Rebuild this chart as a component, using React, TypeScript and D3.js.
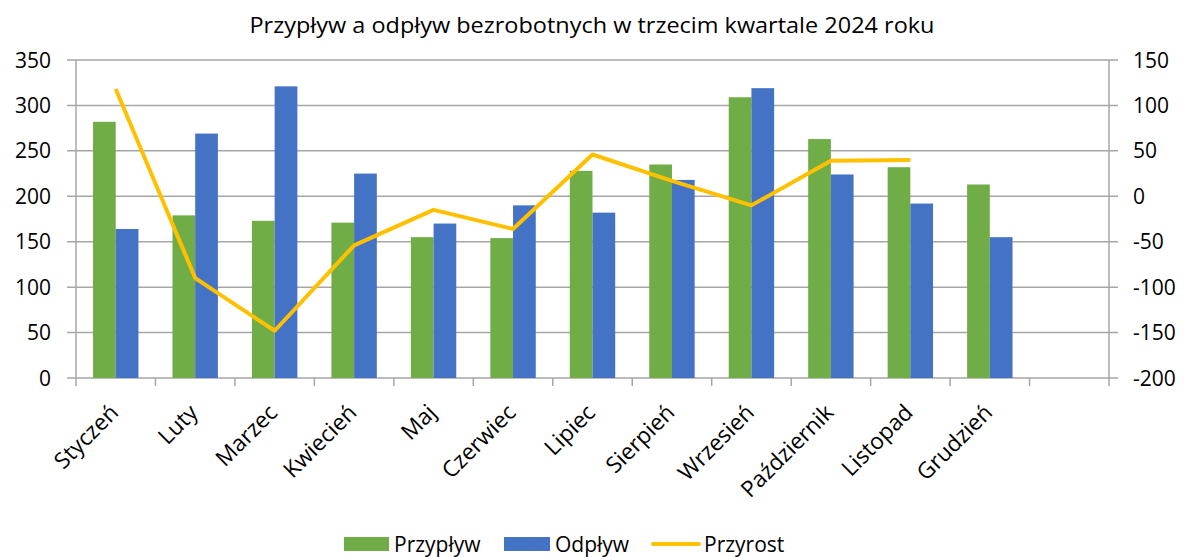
import React from 'react';
import * as d3 from 'd3';

const months = ['Styczeń', 'Luty', 'Marzec', 'Kwiecień', 'Maj', 'Czerwiec', 'Lipiec', 'Sierpień', 'Wrzesień', 'Październik', 'Listopad', 'Grudzień', ''];
const przyplyw = [282, 179, 173, 171, 155, 154, 228, 235, 309, 263, 232, 213];
const odplyw = [164, 269, 321, 225, 170, 190, 182, 218, 319, 224, 192, 155];
const przyrost = [118, -90, -148, -54, -15, -36, 46, 17, -10, 39, 40];
const leftTicks = [0, 50, 100, 150, 200, 250, 300, 350];
const rightTicks = [-200, -150, -100, -50, 0, 50, 100, 150];

const GREEN = '#70AD47';
const BLUE = '#4472C4';
const GOLD = '#FFC000';
const GRID = '#A6A6A6';
const FONT = '"Open Sans", sans-serif';

const App = () => {
    const width = 1186, height = 557;
    const left = 76, right = 1109, top = 60, bottom = 378;

    const x = d3.scaleBand<string>()
        .domain(months.map((m, i) => i + ':' + m))
        .range([left, right]);
    const keys = x.domain();
    const bw = x.bandwidth();
    const barW = bw / 3.5;

    const yL = d3.scaleLinear().domain([0, 350]).range([bottom, top]);
    const yR = d3.scaleLinear().domain([-200, 150]).range([bottom, top]);

    const line = d3.line<number>()
        .x((d, i) => (x(keys[i]) as number) + bw / 2)
        .y(d => yR(d));

    return (
        <svg width={width} height={height} style={{ position: 'absolute', left: 0, top: 0 }} fontFamily={FONT}>
            <rect width={width} height={height} fill="#fff" />
            <text x={592} y={33} textAnchor="middle" fontSize={21} fill="#000" textLength={685} lengthAdjust="spacingAndGlyphs">
                Przypływ a odpływ bezrobotnych w trzecim kwartale 2024 roku
            </text>

            {leftTicks.map(t => (
                <g key={'g' + t}>
                    <line x1={left - 9} x2={right + 9} y1={yL(t)} y2={yL(t)} stroke={GRID} strokeWidth={1.5} />
                    <text x={51} y={yL(t)} dy="0.36em" textAnchor="end" fontSize={21} fill="#000">{t}</text>
                </g>
            ))}
            {rightTicks.map(t => (
                <text key={'r' + t} x={1133} y={yR(t)} dy="0.36em" textAnchor="start" fontSize={21} fill="#000">{t}</text>
            ))}

            {keys.map((k, i) => (
                <line key={'t' + i} x1={x(k)} x2={x(k)} y1={bottom} y2={bottom + 8} stroke={GRID} strokeWidth={1.5} />
            ))}
            <line x1={right} x2={right} y1={bottom} y2={bottom + 8} stroke={GRID} strokeWidth={1.5} />
            <line x1={left} x2={left} y1={top} y2={bottom} stroke={GRID} strokeWidth={1.5} />
            <line x1={right} x2={right} y1={top} y2={bottom} stroke={GRID} strokeWidth={1.5} />

            {przyplyw.map((v, i) => (
                <rect key={'p' + i} x={(x(keys[i]) as number) + (bw - 2 * barW) / 2} y={yL(v)}
                    width={barW} height={yL(0) - yL(v)} fill={GREEN} />
            ))}
            {odplyw.map((v, i) => (
                <rect key={'o' + i} x={(x(keys[i]) as number) + bw / 2} y={yL(v)}
                    width={barW} height={yL(0) - yL(v)} fill={BLUE} />
            ))}

            <path d={line(przyrost) || ''} fill="none" stroke={GOLD} strokeWidth={4} strokeLinejoin="round" />

            {keys.map((k, i) => months[i] ? (
                <text key={'x' + i} transform={`translate(${(x(k) as number) + bw / 2 + 4},${bottom + 36}) rotate(-45)`}
                    textAnchor="end" fontSize={22.5} fill="#000">{months[i]}</text>
            ) : null)}

            <g fontSize={21} fill="#000">
                <rect x={344} y={537} width={45} height={14} fill={GREEN} />
                <text x={394} y={544} dy="0.36em">Przypływ</text>
                <rect x={504} y={537} width={46} height={14} fill={BLUE} />
                <text x={555} y={544} dy="0.36em">Odpływ</text>
                <line x1={653} x2={699} y1={544} y2={544} stroke={GOLD} strokeWidth={4} strokeLinecap="round" />
                <text x={704} y={544} dy="0.36em">Przyrost</text>
            </g>
        </svg>
    );
};

export default App;
